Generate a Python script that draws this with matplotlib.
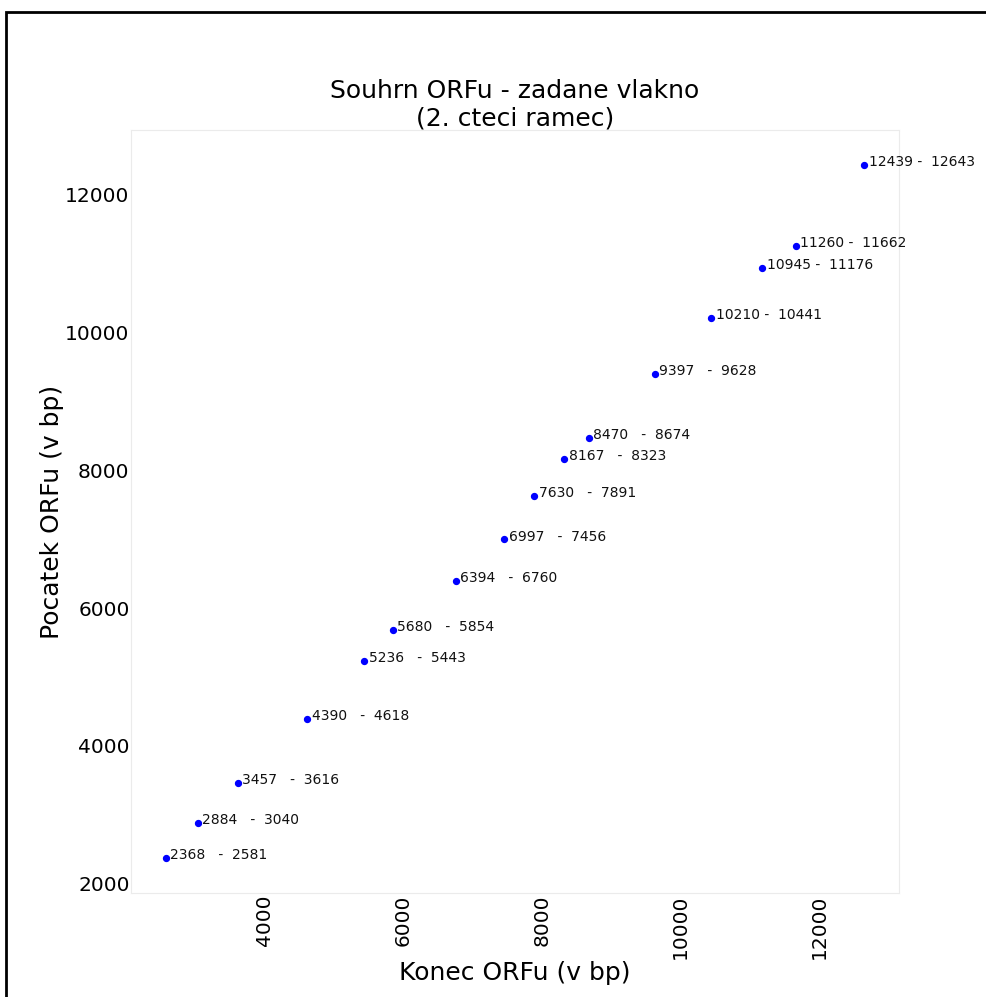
import matplotlib
matplotlib.use("Agg")
import matplotlib.pyplot as plt
from matplotlib.patches import Rectangle

# ORF data (2nd reading frame)
orf_starts = [2368, 2884, 3457, 4390, 5236, 5680, 6394, 6997, 7630, 8167,
              8470, 9397, 10210, 10945, 11260, 12439]
orf_ends = [2581, 3040, 3616, 4618, 5443, 5854, 6760, 7456, 7891, 8323,
            8674, 9628, 10441, 11176, 11662, 12643]
x_ticks = [4000, 6000, 8000, 10000, 12000]
y_ticks = [2000, 4000, 6000, 8000, 10000, 12000]

plt.rcParams['font.family'] = ['DejaVu Sans']

W, H = 986, 997
fig = plt.figure(figsize=(W / 100, H / 100), dpi=100)
ax = fig.add_axes([131 / W, 1 - 893 / H, 768 / W, 763 / H])

ax.scatter(orf_ends, orf_starts, s=18, color='blue', zorder=3)
for s, e in zip(orf_starts, orf_ends):
    gap = " " if len(str(s)) >= 5 else "   "
    label = f"{s}{gap}-  {e}"
    ax.annotate(label, (e, s), xytext=(3.2, -0.8), textcoords='offset points',
                fontsize=10, color='#111111', annotation_clip=False)

ax.set_xticks(x_ticks)
ax.set_yticks(y_ticks)
ax.tick_params(axis='both', length=0, pad=1, labelsize=14.5)
ax.tick_params(axis='x', labelrotation=90)
for sp in ax.spines.values():
    sp.set_color('#ebebeb')
    sp.set_linewidth(0.8)

ax.set_xlabel("Konec ORFu (v bp)", fontsize=18, labelpad=1.5)
ax.set_ylabel("Pocatek ORFu (v bp)", fontsize=18, labelpad=1)
ax.set_title("Souhrn ORFu - zadane vlakno\n(2. cteci ramec)", fontsize=18, pad=3,
             linespacing=1.15)

# black frame around the figure (partially cropped at right/bottom)
rect = Rectangle((5.5 / W, -0.05), 1.2, 1 - 12 / H + 0.05, transform=fig.transFigure,
                 fill=False, edgecolor='black', linewidth=2, clip_on=False)
fig.patches.append(rect)

fig.savefig("out.png", dpi=100)
